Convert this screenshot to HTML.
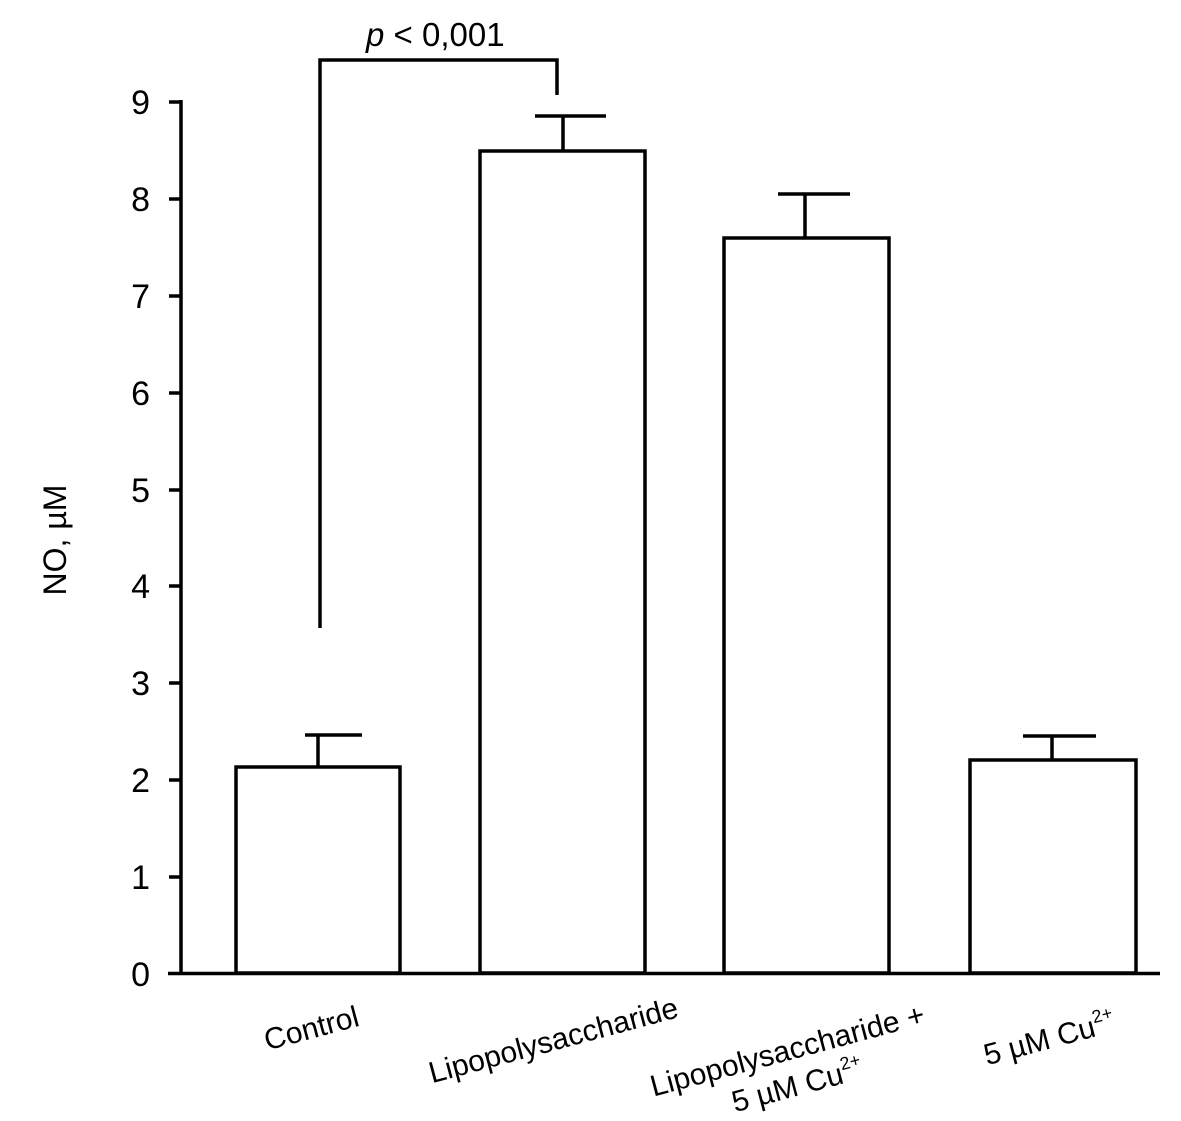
<!DOCTYPE html>
<html><head><meta charset="utf-8"><style>body{margin:0;background:#fff}svg{display:block}</style></head>
<body>
<svg width="1181" height="1121" viewBox="0 0 1181 1121" xmlns="http://www.w3.org/2000/svg" font-family="Liberation Sans, sans-serif" fill="none" stroke="#000" stroke-width="3.5">
<line x1="181" y1="100" x2="181" y2="975"/>
<line x1="168" y1="973.5" x2="1160" y2="973.5"/>
<g>
<line x1="169" y1="102" x2="181" y2="102"/>
<line x1="169" y1="199" x2="181" y2="199"/>
<line x1="169" y1="296" x2="181" y2="296"/>
<line x1="169" y1="393" x2="181" y2="393"/>
<line x1="169" y1="490" x2="181" y2="490"/>
<line x1="169" y1="586" x2="181" y2="586"/>
<line x1="169" y1="683" x2="181" y2="683"/>
<line x1="169" y1="780" x2="181" y2="780"/>
<line x1="169" y1="877" x2="181" y2="877"/>
</g>
<g fill="#000" stroke="none" font-size="34" text-anchor="end">
<text x="150" y="114">9</text>
<text x="150" y="211">8</text>
<text x="150" y="308">7</text>
<text x="150" y="405">6</text>
<text x="150" y="502">5</text>
<text x="150" y="598">4</text>
<text x="150" y="695">3</text>
<text x="150" y="792">2</text>
<text x="150" y="889">1</text>
<text x="150" y="986">0</text>
<text transform="translate(66,540) rotate(-90)" text-anchor="middle" font-size="32">NO, µM</text>
</g>
<rect x="236" y="767" width="164" height="206"/>
<rect x="480" y="151" width="165" height="822"/>
<rect x="724" y="238" width="165" height="735"/>
<rect x="970" y="760" width="166" height="213"/>
<path d="M318 767V735M305 735H362"/>
<path d="M563 151V116M535 116H606"/>
<path d="M805 238V194M778 194H850"/>
<path d="M1052 760V736M1023 736H1096"/>
<path d="M320 628V60H557V95"/>
<text x="366" y="46" fill="#000" stroke="none" font-size="33"><tspan font-style="italic">p</tspan> &lt; 0,001</text>
<g fill="#000" stroke="none" font-size="30" text-anchor="middle">
<text transform="translate(314,1038) rotate(-15)">Control</text>
<text transform="translate(556,1050) rotate(-15)">Lipopolysaccharide</text>
<text transform="translate(790,1060) rotate(-15)">Lipopolysaccharide +</text>
<text transform="translate(800,1095) rotate(-15)">5 µM Cu<tspan font-size="18" dy="-13">2+</tspan></text>
<text transform="translate(1052,1048) rotate(-15)">5 µM Cu<tspan font-size="18" dy="-13">2+</tspan></text>
</g>
</svg>
</body></html>
